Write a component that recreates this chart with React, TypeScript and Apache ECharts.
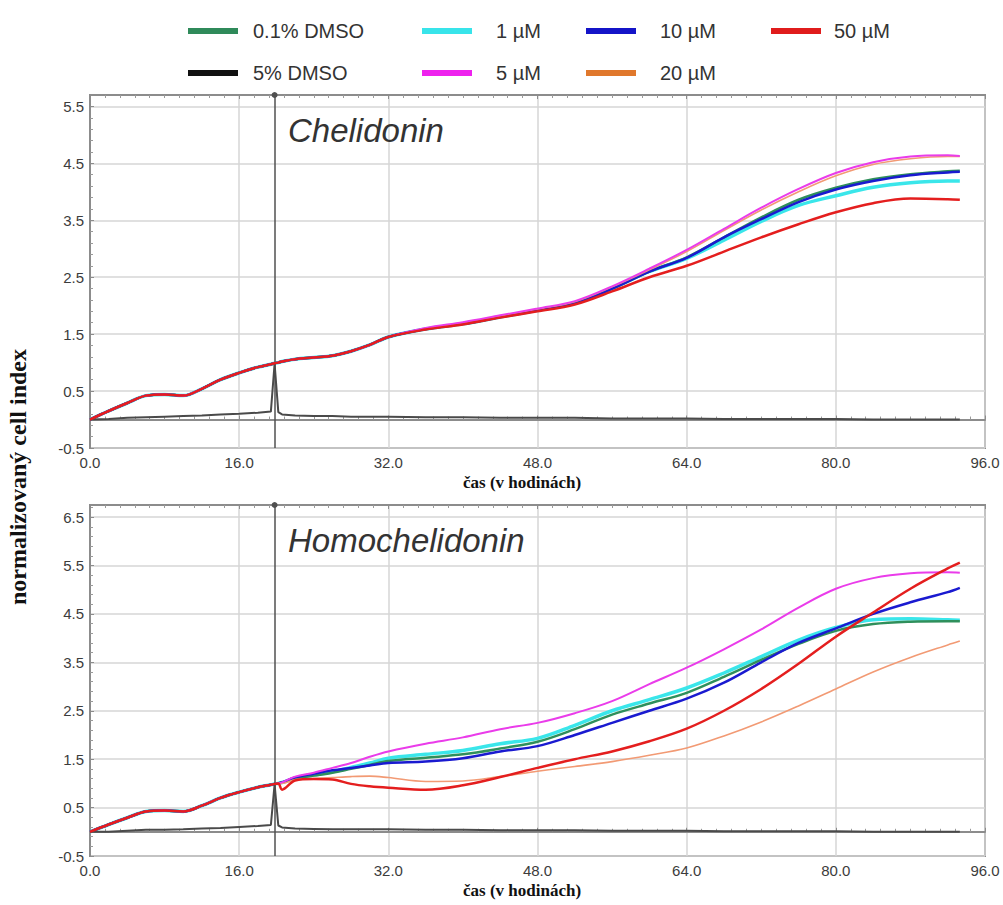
import React, { useEffect, useRef } from "react";
import * as echarts from "echarts";

// Time points (hours) shared by every curve
const hours = [
  0, 2, 4, 6, 8, 10, 12, 14, 16, 18, 19.4, 19.8, 20.2, 20.6, 22, 24, 26, 28, 30, 32,
  36, 40, 44, 48, 52, 56, 60, 64, 68, 72, 76, 80, 84, 88, 92, 93.3,
];

const xTicks = [0, 16, 32, 48, 64, 80, 96];

// Chelidonin panel
const chelDmso01 = [0.0, 0.15, 0.29, 0.42, 0.44, 0.42, 0.54, 0.7, 0.82, 0.92, 0.97, 0.99, 1.0, 1.02, 1.06, 1.09, 1.12, 1.2, 1.31, 1.45, 1.59, 1.68, 1.8, 1.92, 2.05, 2.3, 2.6, 2.85, 3.2, 3.55, 3.86, 4.07, 4.22, 4.31, 4.36, 4.37];
const chel1uM = [0.0, 0.15, 0.29, 0.42, 0.44, 0.42, 0.54, 0.7, 0.82, 0.92, 0.97, 0.99, 1.0, 1.02, 1.06, 1.09, 1.12, 1.2, 1.31, 1.45, 1.59, 1.68, 1.8, 1.92, 2.05, 2.3, 2.6, 2.83, 3.15, 3.48, 3.76, 3.93, 4.08, 4.16, 4.19, 4.19];
const chel10uM = [0.0, 0.15, 0.29, 0.42, 0.44, 0.42, 0.54, 0.7, 0.82, 0.92, 0.97, 0.99, 1.0, 1.02, 1.06, 1.09, 1.12, 1.2, 1.31, 1.45, 1.59, 1.68, 1.8, 1.92, 2.05, 2.3, 2.6, 2.84, 3.2, 3.52, 3.82, 4.04, 4.19, 4.29, 4.34, 4.35];
const chel20uM = [0.0, 0.15, 0.29, 0.42, 0.44, 0.42, 0.54, 0.7, 0.82, 0.92, 0.97, 0.99, 1.0, 1.02, 1.06, 1.09, 1.12, 1.2, 1.31, 1.45, 1.6, 1.7, 1.82, 1.94, 2.07, 2.33, 2.63, 2.95, 3.32, 3.68, 4.0, 4.28, 4.48, 4.58, 4.62, 4.62];
const chel5uM = [0.0, 0.15, 0.29, 0.42, 0.44, 0.42, 0.54, 0.7, 0.82, 0.92, 0.97, 0.99, 1.0, 1.02, 1.06, 1.09, 1.12, 1.2, 1.31, 1.45, 1.61, 1.71, 1.83, 1.95, 2.08, 2.34, 2.65, 2.98, 3.35, 3.72, 4.05, 4.33, 4.52, 4.62, 4.64, 4.63];
const chel50uM = [0.0, 0.15, 0.29, 0.42, 0.44, 0.42, 0.54, 0.7, 0.82, 0.92, 0.97, 0.99, 1.0, 1.02, 1.06, 1.09, 1.12, 1.2, 1.31, 1.45, 1.58, 1.67, 1.79, 1.9, 2.02, 2.25, 2.5, 2.7, 2.95, 3.2, 3.43, 3.64, 3.8, 3.88, 3.87, 3.86];
const chelDmso5 = [0.0, 0.01, 0.03, 0.04, 0.05, 0.06, 0.07, 0.09, 0.1, 0.12, 0.14, 0.98, 0.13, 0.09, 0.07, 0.06, 0.06, 0.05, 0.05, 0.05, 0.04, 0.04, 0.03, 0.03, 0.03, 0.02, 0.02, 0.02, 0.01, 0.01, 0.01, 0.01, 0.0, 0.0, 0.0, 0.0];

// Homochelidonin panel
const homoDmso01 = [0.0, 0.15, 0.29, 0.42, 0.44, 0.42, 0.54, 0.7, 0.82, 0.92, 0.97, 0.99, 1.0, 1.02, 1.1, 1.16, 1.22, 1.3, 1.38, 1.46, 1.53, 1.6, 1.72, 1.86, 2.12, 2.42, 2.65, 2.87, 3.2, 3.55, 3.88, 4.15, 4.29, 4.34, 4.35, 4.35];
const homo1uM = [0.0, 0.15, 0.29, 0.42, 0.44, 0.42, 0.54, 0.7, 0.82, 0.92, 0.97, 0.99, 1.0, 1.02, 1.1, 1.17, 1.24, 1.33, 1.42, 1.52, 1.6, 1.68, 1.82, 1.93, 2.2, 2.5, 2.73, 2.97, 3.28, 3.62, 3.96, 4.22, 4.38, 4.4, 4.38, 4.37];
const homo10uM = [0.0, 0.15, 0.29, 0.42, 0.44, 0.42, 0.54, 0.7, 0.82, 0.92, 0.97, 0.99, 1.0, 1.02, 1.12, 1.2, 1.27, 1.32, 1.37, 1.42, 1.45, 1.52, 1.66, 1.77, 2.0, 2.25, 2.5, 2.75, 3.08, 3.5, 3.9, 4.2, 4.5, 4.74, 4.95, 5.04];
const homo20uM = [0.0, 0.15, 0.29, 0.42, 0.44, 0.42, 0.54, 0.7, 0.82, 0.92, 0.97, 0.99, 1.0, 1.0, 1.08, 1.1, 1.12, 1.14, 1.15, 1.12, 1.04, 1.05, 1.14, 1.25, 1.35, 1.45, 1.58, 1.73, 1.98, 2.27, 2.6, 2.95, 3.3, 3.6, 3.86, 3.94];
const homo5uM = [0.0, 0.15, 0.29, 0.42, 0.44, 0.42, 0.54, 0.7, 0.82, 0.92, 0.97, 0.99, 1.0, 1.02, 1.14, 1.22, 1.32, 1.42, 1.55, 1.66, 1.82, 1.95, 2.12, 2.25, 2.45, 2.7, 3.05, 3.39, 3.77, 4.18, 4.63, 5.02, 5.24, 5.34, 5.36, 5.35];
const homo50uM = [0.0, 0.15, 0.29, 0.42, 0.44, 0.42, 0.54, 0.7, 0.82, 0.92, 0.97, 0.99, 1.0, 0.87, 1.06, 1.09, 1.08, 0.99, 0.94, 0.91, 0.87, 0.96, 1.13, 1.32, 1.5, 1.66, 1.87, 2.13, 2.5, 2.95, 3.47, 4.03, 4.53, 5.02, 5.44, 5.56];
const homoDmso5 = [0.0, 0.0, 0.02, 0.04, 0.04, 0.05, 0.07, 0.08, 0.1, 0.12, 0.14, 0.98, 0.13, 0.09, 0.07, 0.06, 0.05, 0.05, 0.05, 0.05, 0.04, 0.04, 0.03, 0.03, 0.03, 0.02, 0.02, 0.02, 0.01, 0.01, 0.01, 0.01, 0.0, 0.0, 0.0, 0.0];

// Time of compound addition (vertical marker)
const additionTime = 19.8;

const panelTitles = ["Chelidonin", "Homochelidonin"];
const xAxisTitle = "čas (v hodinách)";
const yAxisTitle = "normalizovaný cell index";

type Style = { name: string; color: string; line: string; width: number; z: number };

const styles: Record<string, Style> = {
  dmso01: { name: "0.1% DMSO", color: "#2f8a5a", line: "#2f8f5b", width: 2.5, z: 3 },
  c1: { name: "1 µM", color: "#38e4ea", line: "#3ae6ea", width: 3.5, z: 2 },
  c10: { name: "10 µM", color: "#1414c8", line: "#1a1ad0", width: 2.5, z: 4 },
  c50: { name: "50 µM", color: "#e01c1c", line: "#e41e1e", width: 2.5, z: 8 },
  dmso5: { name: "5% DMSO", color: "#111111", line: "#4a4a4a", width: 2, z: 7 },
  c5: { name: "5 µM", color: "#ee22ee", line: "#ea3cea", width: 2, z: 6 },
  c20: { name: "20 µM", color: "#e0782c", line: "#f29a74", width: 1.6, z: 5 },
};

const panels = [
  {
    dmso01: chelDmso01, c1: chel1uM, c10: chel10uM, c20: chel20uM, c5: chel5uM, c50: chel50uM, dmso5: chelDmso5,
  },
  {
    dmso01: homoDmso01, c1: homo1uM, c10: homo10uM, c20: homo20uM, c5: homo5uM, c50: homo50uM, dmso5: homoDmso5,
  },
];

const yRanges = [
  { min: -0.5, max: 5.7 },
  { min: -0.5, max: 6.75 },
];

const gridBoxes = [
  { left: 90, top: 95, width: 895, height: 353 },
  { left: 90, top: 505, width: 895, height: 351 },
];

const legendLayout = [
  { key: "dmso01", left: 188, top: 21, pad: 10 },
  { key: "c1", left: 422, top: 21, pad: 19 },
  { key: "c10", left: 586, top: 21, pad: 19 },
  { key: "c50", left: 771, top: 21, pad: 8 },
  { key: "dmso5", left: 188, top: 63, pad: 10 },
  { key: "c5", left: 422, top: 63, pad: 19 },
  { key: "c20", left: 586, top: 63, pad: 19 },
];

const frameColor = "#8c8c8c";
const gridColor = "#d6d6d6";
const labelFont = '"Liberation Sans", Arial, sans-serif';
const serifFont = '"Liberation Serif", "Times New Roman", serif';

function buildOption() {
  const grid = gridBoxes.map((g) => ({
    ...g,
    show: true,
    borderColor: frameColor,
    borderWidth: 2,
    backgroundColor: "#ffffff",
  }));

  const xAxis: any[] = [];
  const yAxis: any[] = [];
  gridBoxes.forEach((_, gi) => {
    xAxis.push({
      type: "value",
      gridIndex: gi,
      min: xTicks[0],
      max: xTicks[xTicks.length - 1],
      interval: xTicks[1] - xTicks[0],
      axisLine: { show: true, lineStyle: { color: frameColor, width: 2 } },
      axisTick: { show: true, inside: true, length: 4, lineStyle: { color: frameColor } },
      minorTick: { show: true, splitNumber: 10, length: 3, lineStyle: { color: "#9a9a9a" } },
      axisLabel: {
        formatter: (v: number) => v.toFixed(1),
        fontSize: 15,
        color: "#3c3c3c",
        fontFamily: labelFont,
        margin: 7,
      },
      splitLine: { show: true, lineStyle: { color: gridColor, width: 1.5 } },
    });
    xAxis.push({
      type: "value",
      gridIndex: gi,
      position: "top",
      min: xTicks[0],
      max: xTicks[xTicks.length - 1],
      interval: xTicks[1] - xTicks[0],
      axisLine: { show: true, lineStyle: { color: frameColor, width: 2 } },
      axisTick: { show: true, inside: true, length: 4, lineStyle: { color: frameColor } },
      minorTick: { show: true, splitNumber: 10, length: 3, lineStyle: { color: "#9a9a9a" } },
      axisLabel: { show: false },
      splitLine: { show: false },
    });
    yAxis.push({
      type: "value",
      gridIndex: gi,
      min: yRanges[gi].min,
      max: yRanges[gi].max,
      interval: 1,
      axisLine: { show: true, lineStyle: { color: frameColor, width: 2 } },
      axisTick: { show: true, inside: true, length: 4, lineStyle: { color: frameColor } },
      minorTick: { show: true, splitNumber: 5, length: 3, lineStyle: { color: "#9a9a9a" } },
      axisLabel: {
        formatter: (v: number) => {
          const k = v - 0.5;
          return Math.abs(k - Math.round(k)) < 1e-6 ? v.toFixed(1) : "";
        },
        fontSize: 15,
        color: "#3c3c3c",
        fontFamily: labelFont,
        margin: 6,
      },
      splitLine: { show: true, lineStyle: { color: gridColor, width: 1.5 } },
    });
  });

  const order = ["c1", "dmso01", "c10", "c20", "c5", "dmso5", "c50"];
  const series: any[] = [];
  panels.forEach((panel: any, gi) => {
    order.forEach((key) => {
      const st = styles[key];
      const values: number[] = panel[key];
      const s: any = {
        type: "line",
        name: st.name,
        xAxisIndex: gi * 2,
        yAxisIndex: gi,
        data: hours.map((t, i) => [t, values[i]]),
        showSymbol: false,
        smooth: key === "dmso5" ? false : 0.35,
        z: st.z,
        itemStyle: { color: st.color },
        lineStyle: { color: st.line, width: st.width },
        emphasis: { disabled: true },
      };
      if (key === "dmso5") {
        s.markLine = {
          silent: true,
          symbol: ["none", "circle"],
          symbolSize: 6,
          label: { show: false },
          lineStyle: { color: "#505050", width: 1.5, type: "solid" },
          itemStyle: { color: "#111" },
          data: [{ xAxis: additionTime }],
        };
      }
      series.push(s);
    });
  });

  const legend = legendLayout.map((l) => ({
    data: [styles[l.key].name],
    left: l.left,
    top: l.top,
    padding: 0,
    icon: "rect",
    itemWidth: 50,
    itemHeight: 6,
    selectedMode: false,
    itemStyle: { color: styles[l.key].color, borderWidth: 0 },
    textStyle: {
      fontSize: 20,
      color: "#333",
      fontFamily: labelFont,
      padding: [0, 0, 0, l.pad],
    },
  }));

  const graphic: any[] = [];
  panelTitles.forEach((title, gi) => {
    graphic.push({
      type: "text",
      x: 288,
      y: gridBoxes[gi].top + 19,
      z: 50,
      style: {
        text: title,
        fontSize: 33,
        fontStyle: "italic",
        fontFamily: labelFont,
        fill: "#333",
        align: "left",
        verticalAlign: "top",
      },
    });
    graphic.push({
      type: "text",
      x: 522,
      y: gridBoxes[gi].top + gridBoxes[gi].height + 34,
      z: 50,
      style: {
        text: xAxisTitle,
        fontSize: 17,
        fontWeight: "bold",
        fontFamily: serifFont,
        fill: "#111",
        align: "center",
        verticalAlign: "middle",
      },
    });
  });
  graphic.push({
    type: "text",
    x: 18,
    y: 477,
    rotation: Math.PI / 2,
    z: 50,
    style: {
      text: yAxisTitle,
      fontSize: 24,
      fontWeight: "bold",
      fontFamily: serifFont,
      fill: "#111",
      align: "center",
      verticalAlign: "middle",
    },
  });

  return {
    animation: false,
    backgroundColor: "#ffffff",
    grid,
    xAxis,
    yAxis,
    legend,
    series,
    graphic,
  };
}

export default function App() {
  const ref = useRef<HTMLDivElement>(null);
  useEffect(() => {
    if (!ref.current) return;
    const chart = echarts.init(ref.current, undefined, { renderer: "svg" });
    chart.setOption(buildOption() as any);
    return () => chart.dispose();
  }, []);
  return (
    <div
      ref={ref}
      style={{ position: "absolute", left: 0, top: 0, width: 1003, height: 905, background: "#fff" }}
    />
  );
}
